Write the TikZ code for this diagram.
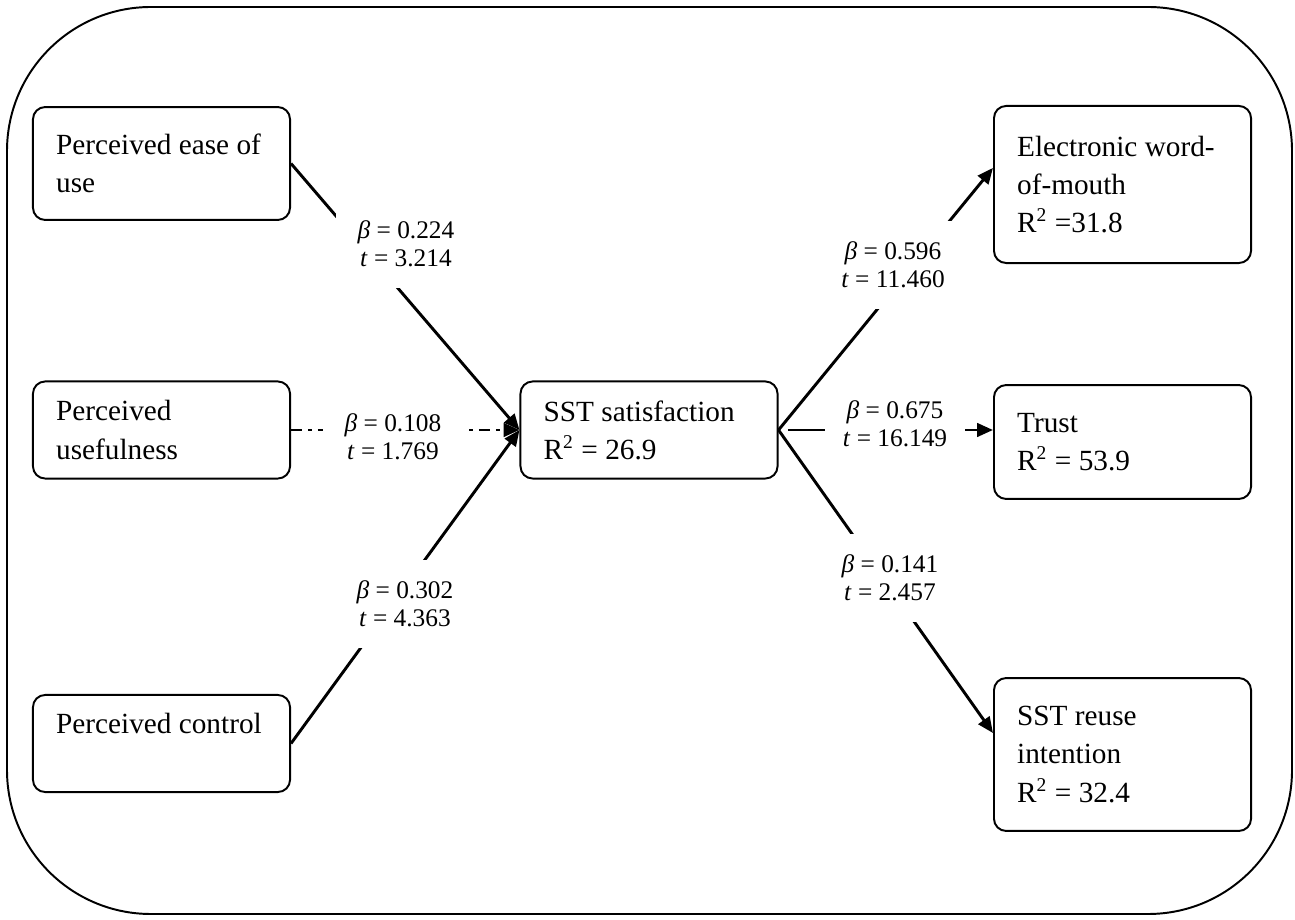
\documentclass[tikz,border=0pt]{standalone}
\usepackage{fontspec}
\setmainfont{Liberation Serif}
\usetikzlibrary{arrows.meta}

\begin{document}
\begin{tikzpicture}[x=0.41pt,y=-0.41pt]
		\tikzstyle{construct}=[draw,line width=0.8pt,rounded corners=5pt,text width=86.4pt,align=flush left,inner xsep=9.5pt,inner ysep=0pt,font=\fontsize{12}{15.6}\selectfont]
		\tikzstyle{effect}=[line width=1.2pt,-{Triangle[length=6.5pt,width=5.5pt]}]
		\tikzstyle{weak}=[effect,dash pattern=on 4.5pt off 2.5pt on 1.5pt off 2.5pt]
		\tikzstyle{coef}=[fill=white,align=flush center,minimum width=57.4pt,minimum height=35.7pt,font=\fontsize{10.4}{11.5}\selectfont]
		
		\useasboundingbox (0,0) rectangle (1295,920);
		\draw[line width=0.8pt,rounded corners=59pt] (7,7) rectangle (1292,914);
		
		% antecedents
		\node[construct,minimum height=46.3pt] (ease) at (161.5,163.5) {Perceived ease of\\use};
		\node[construct,minimum height=39.8pt] (useful) at (161.5,430) {Perceived\\usefulness};
		\node[construct,minimum height=39.8pt,text height=9pt,text depth=17pt] (control) at (161.5,743.5) {Perceived control};
		
		% mediator
		\node[construct,minimum height=39.8pt] (sat) at (649,430) {SST satisfaction\\R\textsuperscript{2} = 26.9};
		
		% outcomes
		\node[construct,minimum height=64.4pt] (ewom) at (1122.5,184.5) {Electronic word-\\of-mouth\\R\textsuperscript{2} =31.8};
		\node[construct,minimum height=46.7pt] (trust) at (1122.5,442) {Trust\\R\textsuperscript{2} = 53.9};
		\node[construct,minimum height=62.7pt] (reuse) at (1122.5,754.5) {SST reuse\\intention\\R\textsuperscript{2} = 32.4};
		
		\draw[effect] (ease.east) -- (sat.west);
		\draw[weak] (useful.east) -- (sat.west);
		\draw[effect] (control.east) -- (sat.west);
		\draw[effect] (sat.east) -- ([yshift=6.8pt]ewom.west);
		\draw[effect,shorten <=4pt] (sat.east) -- (trust.west |- sat.east);
		\draw[effect] (sat.east) -- ([yshift=8.8pt]reuse.west);
		
		% path coefficients
		\node[coef] (b1) at (406,244) {\textit{β} = 0.224\\\textit{t} = 3.214};
		\node[coef] (b2) at (393,437) {\textit{β} = 0.108\\\textit{t} = 1.769};
		\node[coef] (b3) at (405,604) {\textit{β} = 0.302\\\textit{t} = 4.363};
		\node[coef] (b4) at (893,265) {\textit{β} = 0.596\\\textit{t} = 11.460};
		\node[coef] (b5) at (895,424) {\textit{β} = 0.675\\\textit{t} = 16.149};
		\node[coef] (b6) at (890,578) {\textit{β} = 0.141\\\textit{t} = 2.457};
\end{tikzpicture}
\end{document}
